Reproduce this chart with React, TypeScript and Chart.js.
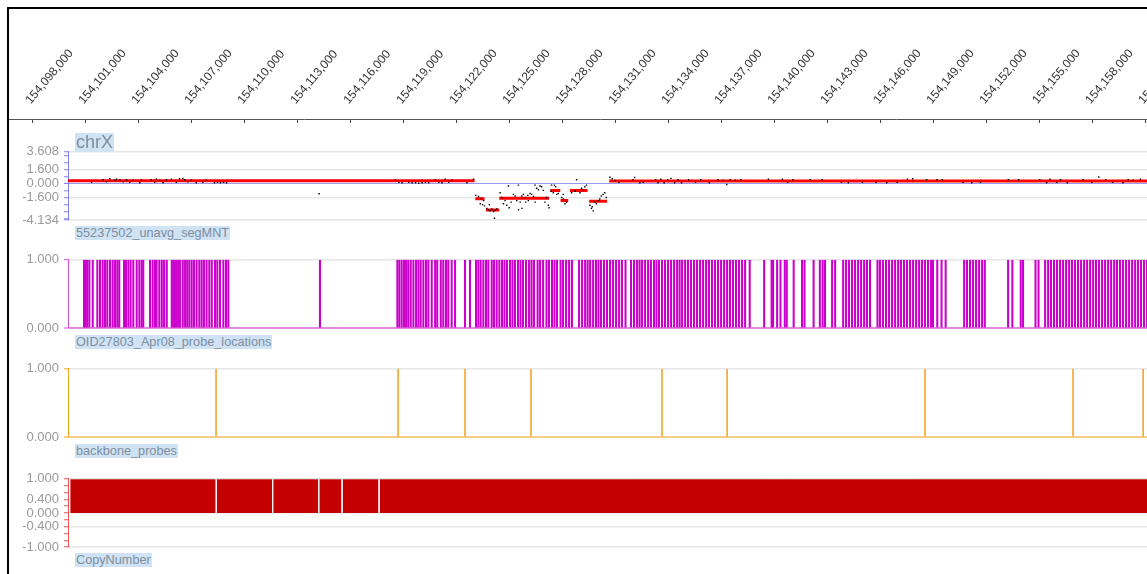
import React, { useEffect, useRef } from "react";
import { Chart, registerables } from "chart.js";

Chart.register(...registerables);

const FONT = "'Liberation Sans', Arial, Helvetica, sans-serif";

// ---- genomic window ----
const REGION_START = 154100000; // bp at the left edge of the tracks
const BP_PER_PX = 56.196;
const CANVAS_W = 1200;
const PLOT_LEFT = 68;
const AXIS_LEFT = 9;
const VIEW_MIN = REGION_START;
const VIEW_MAX = REGION_START + (CANVAS_W - PLOT_LEFT) * BP_PER_PX;
const AXIS_MIN = REGION_START - (PLOT_LEFT - AXIS_LEFT) * BP_PER_PX;

// ---- top axis tick labels ----
const axisTicks = [
  154098000, 154101000, 154104000, 154107000, 154110000, 154113000, 154116000,
  154119000, 154122000, 154125000, 154128000, 154131000, 154134000, 154137000,
  154140000, 154143000, 154146000, 154149000, 154152000, 154155000, 154158000,
  154161000,
];

// ---- track 1: 55237502_unavg_segMNT (positions in kb from REGION_START) ----
const segTicks = [3.608, 3.2, 2.4, 1.6, 0.8, 0, -0.8, -1.6, -2.4, -3.2, -4.0, -4.134];
const segLabeled = [3.608, 1.6, 0, -1.6, -4.134];
const segDots: [number, number][] = [
  [1.33, 0.15], [1.98, 0.45], [2.17, 0.2], [2.36, 0.55], [2.64, 0.4], [2.74, 0.5], [2.92, 0.45], [3.11, 0.2],
  [3.3, 0.45], [3.48, 0.15], [3.67, 0.4], [4.05, 0.1], [4.14, 0.45], [4.7, 0.45], [4.89, 0.15], [4.98, 0.5],
  [5.17, 0.4], [5.36, 0.1], [5.55, 0.45], [5.83, 0.5], [6.11, 0.15], [6.29, 0.55], [6.48, 0.6], [6.58, 0.45],
  [6.76, 0.2], [6.95, 0.4], [7.23, 0.1], [7.6, 0.15], [7.79, 0.4], [8.26, 0.1], [8.43, 0.15], [8.6, 0.1],
  [8.77, 0.15], [8.94, 0.1],
  [14.16, -1.14],
  [18.47, 0.45], [18.66, 0.15], [18.84, 0.1], [19.22, 0.15], [19.41, 0.1], [19.6, 0.1], [19.78, 0.05], [19.97, 0.1],
  [20.16, 0.15], [20.34, 0.1], [20.72, 0.45], [20.91, 0.15], [21.09, 0.1], [21.28, 0.5], [21.47, 0.15], [21.65, 0.4],
  [22.5, 0.1], [22.87, 0.5],
  [23.0, -1.32], [23.15, -1.46], [23.31, -1.67], [23.44, -1.92], [23.25, -2.27], [23.38, -2.37], [23.49, -2.51],
  [23.62, -2.8], [23.72, -2.97], [23.81, -3.08], [23.9, -2.87], [24.0, -3.14], [24.09, -3.01], [24.18, -2.87],
  [24.05, -3.92], [23.76, -2.37],
  [24.37, -1.03], [24.46, -1.56], [24.56, -2.27], [24.65, -1.92], [24.74, -2.45], [24.84, -0.26], [24.88, -2.72],
  [24.99, -2.09], [25.12, -1.21], [25.22, -1.39], [25.31, -1.92], [25.4, -0.16], [25.41, -2.97], [25.5, -2.09],
  [25.59, -1.39], [25.6, -2.8], [25.68, -1.21], [25.78, -1.56], [25.81, -2.09], [25.93, -1.32], [25.96, -1.92],
  [26.06, -1.11], [26.15, -1.21], [26.25, -1.46], [26.34, -0.16], [26.35, -2.09], [26.43, -0.51], [26.53, -0.69],
  [26.62, -0.26], [26.71, -0.34], [26.81, -0.76], [26.9, -2.09], [26.99, -1.56], [27.09, -2.45], [27.13, -2.72],
  [27.24, -0.86], [27.27, -0.16], [27.37, -1.03], [27.43, -0.16], [27.5, -0.34], [27.56, -1.21], [27.65, -1.11],
  [27.84, -1.56], [27.93, -1.21], [27.94, -1.74], [28.03, -2.27], [28.12, -2.09],
  [28.4, -1.03], [28.59, -0.86], [28.68, 0.44], [28.87, -1.03], [28.96, -0.51], [29.06, -0.69], [29.15, -0.34],
  [29.24, -0.16],
  [29.43, -2.45], [29.52, -2.8], [29.56, -2.62], [29.62, -3.08], [29.71, -2.09], [29.8, -2.27], [29.9, -1.92],
  [29.99, -1.74], [30.08, -1.39], [30.18, -1.21], [30.27, -1.03], [30.36, -1.56],
  [30.56, 0.72], [30.69, 0.55], [30.84, 0.37], [31.07, 0.15], [31.86, 0.45], [31.96, 0.7], [32.25, 0.1], [32.44, 0.15],
  [33.14, 0.45], [33.27, 0.1], [33.43, 0.5], [33.62, 0.1], [33.82, 0.45], [34.01, 0.6], [34.21, 0.1], [34.41, 0.45],
  [34.6, 0.1], [35.0, 0.45], [35.39, 0.15], [35.68, 0.45], [36.17, 0.1], [36.66, 0.45], [36.96, 0.4], [37.15, -0.1],
  [37.34, 0.45], [37.64, 0.4], [37.94, 0.45], [39.5, 0.5], [40.29, 0.5], [40.58, 0.15], [40.87, 0.45], [41.86, 0.45],
  [42.54, 0.45], [43.62, 0.15], [44.01, 0.1], [44.8, 0.15], [45.58, 0.15], [46.17, 0.1], [46.76, 0.15], [47.34, 0.5],
  [47.64, 0.55], [48.42, 0.45], [49.01, 0.45], [49.3, 0.45], [50.48, 0.15], [50.97, 0.1], [51.46, 0.15], [53.03, 0.45],
  [53.61, 0.45], [54.8, 0.45], [55.19, 0.1], [55.38, 0.5], [55.77, 0.15], [55.97, 0.45], [56.36, 0.1], [57.25, 0.45],
  [57.73, 0.15], [58.13, 0.75], [58.52, 0.45], [58.91, 0.15], [59.5, 0.1], [59.79, 0.45], [60.08, 0.4], [60.48, 0.5],
];
const segStartKb = [0, 22.97, 23.57, 24.32, 27.2, 27.78, 28.31, 29.39, 30.52];
const segEndKb = [22.93, 23.49, 24.32, 27.13, 27.76, 28.21, 29.3, 30.4, 66.0];
const segValue = [0.32, -1.72, -2.97, -1.65, -0.78, -1.9, -0.78, -2.0, 0.3];

// ---- track 2: OID27803_Apr08_probe_locations ----
const probeKb = [
  0.9, 0.99, 1.08, 1.2, 1.39, 1.65, 1.8, 1.95, 2.08, 2.21, 2.36, 2.51, 2.64, 2.77, 2.88, 3.15, 3.26, 3.39, 3.52,
  3.67, 3.86, 4.01, 4.14, 4.23, 4.61, 4.76, 4.89, 4.98, 5.13, 5.27, 5.4, 5.55, 5.83, 5.92, 6.01, 6.11, 6.2, 6.29,
  6.45, 6.58, 6.7, 6.82, 6.95, 7.08, 7.23, 7.38, 7.51, 7.64, 7.79, 7.94, 8.08, 8.26, 8.39, 8.54, 8.73, 8.88, 9.01,
  14.16,
  18.51, 18.62, 18.75, 18.88, 19.0, 19.12, 19.26, 19.41, 19.56, 19.69, 19.82, 19.97, 20.12, 20.25, 20.44, 20.63,
  20.75, 20.95, 21.09, 21.24, 21.37, 21.56, 21.75, 22.31, 22.59, 22.93, 23.06, 23.19, 23.34, 23.49, 23.62, 23.81,
  23.94, 24.09, 24.24,
  24.39, 24.53, 24.67, 24.84, 24.98, 25.12, 25.29, 25.43, 25.57, 25.74, 25.91, 26.05, 26.19, 26.39, 26.53, 26.7,
  26.89, 27.03, 27.2, 27.34, 27.48, 27.68, 27.82, 27.99, 28.16, 28.32,
  28.72, 28.89, 29.06, 29.2, 29.34, 29.51, 29.67, 29.81, 29.95, 30.12, 30.29, 30.46, 30.63, 30.8, 30.97, 31.13, 31.33,
  31.64, 31.81, 31.98, 32.12, 32.26, 32.43, 32.6, 32.76, 32.93, 33.07, 33.21, 33.38, 33.55, 33.72, 33.89, 34.06,
  34.23, 34.37, 34.51, 34.68, 34.84, 35.01, 35.18, 35.35, 35.52, 35.69, 35.86, 36.02, 36.19, 36.36, 36.53, 36.7,
  36.87, 37.04, 37.2, 37.37, 37.54, 37.71, 37.88, 38.05,
  38.31, 39.12, 39.54, 39.62, 39.85, 40.04, 40.28, 40.39, 40.78, 41.25, 41.39, 41.9, 42.25, 42.41, 42.54, 42.94, 43.11,
  43.56, 43.72, 43.89, 44.06, 44.23, 44.4, 44.57, 44.74, 44.9, 45.07,
  45.49, 45.63, 45.8, 45.97, 46.14, 46.31, 46.48, 46.65, 46.81, 46.98, 47.15, 47.32, 47.49, 47.66, 47.83, 47.99,
  48.16, 48.33, 48.5, 48.61,
  48.85, 49.09, 49.32,
  50.36, 50.52, 50.69, 50.86, 51.03, 51.2, 51.37, 51.52,
  52.83, 53.07, 53.54, 53.67, 54.37, 54.54,
  54.91, 55.08, 55.24, 55.41, 55.58, 55.75, 55.92, 56.09, 56.26, 56.42, 56.59, 56.76, 56.93, 57.1, 57.27, 57.44,
  57.61, 57.77, 57.94, 58.11, 58.28, 58.45, 58.62, 58.79, 58.95, 59.12, 59.29, 59.46, 59.63, 59.8, 59.97, 60.13,
  60.3, 60.47, 60.64,
];

// ---- track 3: backbone_probes ----
const backboneKb = [8.32, 18.55, 22.31, 26.02, 33.38, 37.04, 48.16, 56.48, 60.42];

// ---- track 4: CopyNumber ----
const cnStartKb = [0.11, 8.33, 11.5, 14.09, 15.4, 17.48];
const cnEndKb = [8.33, 11.5, 14.09, 15.4, 17.48, 66.0];
const cnValue = [1, 1, 1, 1, 1, 1];
const cnTicks = [1, 0.8, 0.6, 0.4, 0.2, 0, -0.2, -0.4, -0.6, -0.8, -1];
const cnLabeled = [1, 0.4, 0, -0.4, -1];

const unitTicks = [1, 0];

const kbToBp = (kb: number) => REGION_START + kb * 1000;

type AxisSpec = {
  min: number;
  max: number;
  ticks: number[];
  labeled: number[];
  axisColor: string;
  gridColor: string;
  zeroColor?: string;
  zeroWidth?: number;
};

function yAxis(spec: AxisSpec) {
  const valOf = (ctx: any) => (ctx && ctx.tick ? ctx.tick.value : NaN);
  return {
    type: "linear",
    position: "left",
    min: spec.min,
    max: spec.max,
    afterBuildTicks: (s: any) => {
      s.ticks = spec.ticks.map((v) => ({ value: v }));
    },
    afterFit: (s: any) => {
      s.width = PLOT_LEFT;
    },
    ticks: {
      autoSkip: false,
      padding: 5,
      color: "#9a9a9a",
      font: { family: FONT, size: 13 },
      callback: (v: any) => (spec.labeled.includes(v) ? Number(v).toFixed(3) : ""),
    },
    grid: {
      drawTicks: true,
      tickLength: 4,
      tickWidth: 1,
      tickColor: spec.axisColor,
      color: (ctx: any) => {
        const v = valOf(ctx);
        if (v === 0 && spec.zeroColor) return spec.zeroColor;
        return spec.labeled.includes(v) ? spec.gridColor : "rgba(0,0,0,0)";
      },
      lineWidth: (ctx: any) => {
        const v = valOf(ctx);
        if (v === 0 && spec.zeroColor) return spec.zeroWidth ?? 1;
        return 1.5;
      },
    },
    border: { display: true, color: spec.axisColor, width: 1 },
  };
}

function trackOptions(y: any) {
  return {
    responsive: false,
    animation: false,
    events: [],
    layout: { padding: { top: 10, bottom: 10, left: 0, right: 0 } },
    plugins: { legend: { display: false }, tooltip: { enabled: false } },
    scales: {
      x: { type: "linear", display: false, min: VIEW_MIN, max: VIEW_MAX, offset: false },
      y,
    },
  };
}

function segConfig(): any {
  const lineData: any[] = [];
  segStartKb.forEach((s, i) => {
    lineData.push({ x: kbToBp(s), y: segValue[i] });
    lineData.push({ x: kbToBp(segEndKb[i]), y: segValue[i] });
    lineData.push({ x: kbToBp(segEndKb[i]), y: null });
  });
  return {
    type: "scatter",
    data: {
      datasets: [
        {
          type: "scatter",
          order: 0,
          data: segDots.map(([kb, v]) => ({ x: kbToBp(kb), y: v })),
          pointStyle: "rect",
          pointRadius: 1,
          pointBackgroundColor: "#000",
          pointBorderWidth: 0,
        },
        {
          type: "line",
          order: 1,
          data: lineData,
          borderColor: "#ff0000",
          borderWidth: 3,
          pointRadius: 0,
          spanGaps: false,
          tension: 0,
        },
      ],
    },
    options: trackOptions(
      yAxis({
        min: -4.134,
        max: 3.608,
        ticks: segTicks,
        labeled: segLabeled,
        axisColor: "#7f7ff5",
        gridColor: "#e6e6e6",
        zeroColor: "#9a9af0",
        zeroWidth: 1,
      })
    ),
  };
}

function barsConfig(kbs: number[], color: string, thickness: number, axisColor: string, zeroColor: string): any {
  return {
    type: "bar",
    data: {
      datasets: [
        {
          data: kbs.map((kb) => ({ x: kbToBp(kb), y: 1 })),
          backgroundColor: color,
          barThickness: thickness,
          grouped: false,
          borderWidth: 0,
        },
      ],
    },
    options: trackOptions(
      yAxis({
        min: 0,
        max: 1,
        ticks: unitTicks,
        labeled: unitTicks,
        axisColor,
        gridColor: "#e6e6e6",
        zeroColor,
        zeroWidth: 2,
      })
    ),
  };
}

function cnConfig(): any {
  return {
    type: "line",
    data: {
      datasets: cnStartKb.map((s, i) => ({
        data: [
          { x: kbToBp(s), y: 0 },
          { x: kbToBp(s), y: cnValue[i] },
          { x: kbToBp(cnEndKb[i]), y: cnValue[i] },
          { x: kbToBp(cnEndKb[i]), y: 0 },
        ],
        fill: "origin",
        backgroundColor: "#c40000",
        borderColor: "#eeeeee",
        borderWidth: 1,
        pointRadius: 0,
        tension: 0,
      })),
    },
    options: trackOptions(
      yAxis({
        min: -1,
        max: 1,
        ticks: cnTicks,
        labeled: cnLabeled,
        axisColor: "#ec5555",
        gridColor: "#e6e6e6",
      })
    ),
  };
}

function axisConfig(): any {
  return {
    type: "scatter",
    data: { datasets: [] },
    options: {
      responsive: false,
      animation: false,
      events: [],
      layout: { padding: { left: AXIS_LEFT, right: 0, top: 0, bottom: 7 } },
      plugins: { legend: { display: false }, tooltip: { enabled: false } },
      scales: {
        x: {
          type: "linear",
          position: "top",
          min: AXIS_MIN,
          max: VIEW_MAX,
          offset: false,
          afterBuildTicks: (s: any) => {
            s.ticks = axisTicks.map((v) => ({ value: v }));
          },
          afterFit: (s: any) => {
            s.height = 119;
          },
          ticks: {
            autoSkip: false,
            minRotation: 50,
            maxRotation: 50,
            padding: 12,
            labelOffset: 7,
            color: "#333",
            font: { family: FONT, size: 12 },
            callback: (v: any) => Number(v).toLocaleString("en-US"),
          },
          grid: { drawTicks: false, color: "#444", lineWidth: 1 },
          border: { display: true, color: "#555", width: 1 },
        },
        y: { display: false, min: 0, max: 1 },
      },
    },
  };
}

const labelBase: React.CSSProperties = {
  position: "absolute",
  left: 75,
  fontFamily: FONT,
  background: "#cfe3f5",
  color: "#7e8e9e",
  whiteSpace: "nowrap",
  padding: "0 1px",
  zIndex: 2,
};

export default function App() {
  const axisRef = useRef<HTMLCanvasElement>(null);
  const segRef = useRef<HTMLCanvasElement>(null);
  const probeRef = useRef<HTMLCanvasElement>(null);
  const boneRef = useRef<HTMLCanvasElement>(null);
  const cnRef = useRef<HTMLCanvasElement>(null);

  useEffect(() => {
    const charts: Chart[] = [];
    charts.push(new Chart(axisRef.current!, axisConfig()));
    charts.push(new Chart(segRef.current!, segConfig()));
    charts.push(new Chart(probeRef.current!, barsConfig(probeKb, "#cc00cc", 1.4, "#d64fd6", "#e08ae0")));
    charts.push(new Chart(boneRef.current!, barsConfig(backboneKb, "#f7a833", 1, "#f5a623", "#f3cd8c")));
    charts.push(new Chart(cnRef.current!, cnConfig()));
    return () => charts.forEach((c) => c.destroy());
  }, []);

  const canvasStyle = (top: number): React.CSSProperties => ({ position: "absolute", left: 0, top, display: "block" });

  return (
    <div style={{ position: "fixed", left: 0, top: 0, width: 1147, height: 574, overflow: "hidden", background: "#fff" }}>
      <canvas ref={axisRef} width={CANVAS_W} height={130} style={canvasStyle(0)} />
      <canvas ref={segRef} width={CANVAS_W} height={94} style={canvasStyle(139)} />
      <canvas ref={probeRef} width={CANVAS_W} height={94} style={canvasStyle(247)} />
      <canvas ref={boneRef} width={CANVAS_W} height={94} style={canvasStyle(356)} />
      <canvas ref={cnRef} width={CANVAS_W} height={94} style={canvasStyle(466)} />

      <div style={{ position: "absolute", left: 7, top: 7, width: 1140, height: 2, background: "#000", zIndex: 3 }} />
      <div style={{ position: "absolute", left: 7, top: 7, width: 2, height: 567, background: "#000", zIndex: 3 }} />

      <span style={{ ...labelBase, top: 133, fontSize: 18, lineHeight: "19px" }}>chrX</span>
      <span style={{ ...labelBase, top: 226, fontSize: 12.7, lineHeight: "14px" }}>55237502_unavg_segMNT</span>
      <span style={{ ...labelBase, top: 335, fontSize: 12.7, lineHeight: "14px" }}>OID27803_Apr08_probe_locations</span>
      <span style={{ ...labelBase, top: 444, fontSize: 12.7, lineHeight: "14px" }}>backbone_probes</span>
      <span style={{ ...labelBase, top: 553, fontSize: 12.7, lineHeight: "14px" }}>CopyNumber</span>
    </div>
  );
}
